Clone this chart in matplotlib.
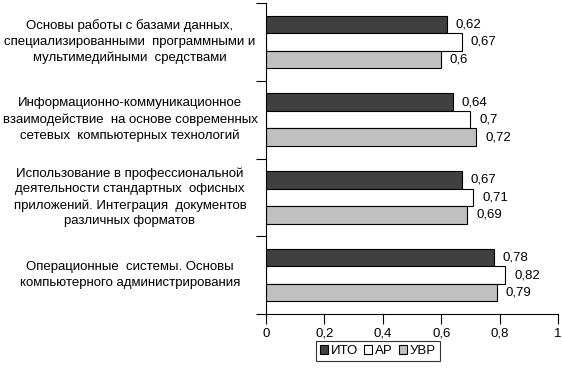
import numpy as np
import matplotlib.pyplot as plt

plt.rcParams['font.family'] = ['Liberation Sans', 'DejaVu Sans']

categories = [
    'Основы работы с базами данных,\nспециализированными  программными и\nмультимедийными  средствами',
    'Информационно-коммуникационное\nвзаимодействие  на основе современных\nсетевых  компьютерных технологий',
    'Использование в профессиональной\nдеятельности стандартных  офисных\nприложений. Интеграция  документов\nразличных форматов',
    'Операционные  системы. Основы\nкомпьютерного администрирования',
]
series_names = ['ИТО', 'АР', 'УВР']
ito = [0.62, 0.64, 0.67, 0.78]
ar = [0.67, 0.70, 0.71, 0.82]
uvr = [0.60, 0.72, 0.69, 0.79]
colors = ['#404040', '#ffffff', '#c0c0c0']

fig = plt.figure(figsize=(5.62, 3.68), dpi=100)
ax = fig.add_axes([266 / 562, 1 - 314 / 368, 292 / 562, 311 / 368])

y = np.arange(len(categories))
h = 0.225
for i, (vals, name) in enumerate(zip([ito, ar, uvr], series_names)):
    pos = y - h + i * h
    ax.barh(pos, vals, height=h, color=colors[i], edgecolor='black',
            linewidth=0.8, label=name)
    for p, v in zip(pos, vals):
        ax.text(v + 0.03, p, ('%g' % v).replace('.', ','), va='center',
                ha='left', fontsize=9.5)

ax.set_xlim(0, 1)
ax.set_ylim(len(categories) - 0.5, -0.5)
ax.set_xticks(np.arange(0, 1.01, 0.2))
ax.set_xticklabels(['0', '0,2', '0,4', '0,6', '0,8', '1'], fontsize=9.5)
ax.set_yticks(np.arange(-0.5, len(categories), 1))
ax.set_yticklabels([])
ax.tick_params(axis='both', length=7, width=0.8, direction='out')
ax.tick_params(axis='x', pad=3)
for s in ['top', 'right']:
    ax.spines[s].set_visible(False)
for s in ['left', 'bottom']:
    ax.spines[s].set_linewidth(0.8)

# category labels centred at about x=130 px
fig.canvas.draw()
for yi, c in zip(y, categories):
    ypix = ax.transData.transform((0, yi))[1]
    fig.text(130 / 562, ypix / 368, c, ha='center', va='center',
             fontsize=9.5, multialignment='center', linespacing=1.4)

leg = fig.legend(loc='center', bbox_to_anchor=(378 / 562, 1 - 351 / 368),
                 ncol=3, frameon=True, fancybox=False, fontsize=9.5,
                 handlelength=0.6, handleheight=0.6, handletextpad=0.2,
                 columnspacing=0.5, borderpad=0.3, borderaxespad=0)
leg.get_frame().set_edgecolor('black')
leg.get_frame().set_linewidth(0.8)

fig.savefig('out.png', dpi=100)
